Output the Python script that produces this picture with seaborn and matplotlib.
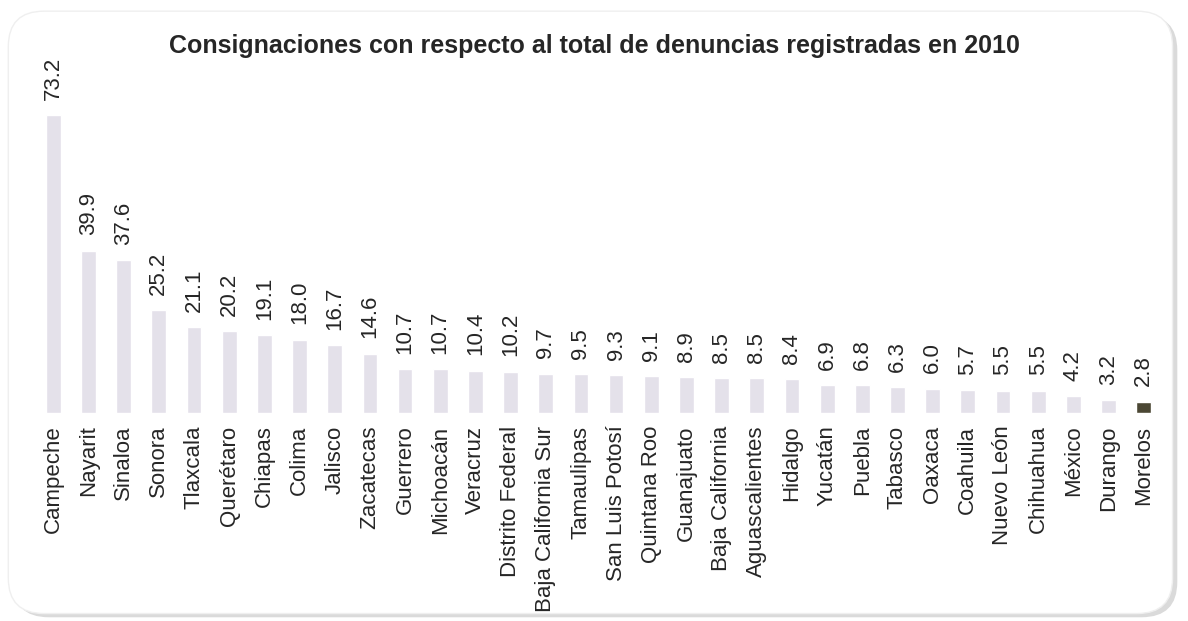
"""Consignaciones con respecto al total de denuncias registradas en 2010"""
import pandas as pd
import matplotlib
matplotlib.use("Agg")
import matplotlib.pyplot as plt
from matplotlib.patches import FancyBboxPatch
import seaborn as sns

estados = ['Campeche', 'Nayarit', 'Sinaloa', 'Sonora', 'Tlaxcala', 'Querétaro',
           'Chiapas', 'Colima', 'Jalisco', 'Zacatecas', 'Guerrero', 'Michoacán',
           'Veracruz', 'Distrito Federal', 'Baja California Sur', 'Tamaulipas',
           'San Luis Potosí', 'Quintana Roo', 'Guanajuato', 'Baja California',
           'Aguascalientes', 'Hidalgo', 'Yucatán', 'Puebla', 'Tabasco', 'Oaxaca',
           'Coahuila', 'Nuevo León', 'Chihuahua', 'México', 'Durango', 'Morelos']
valores = [73.2, 39.9, 37.6, 25.2, 21.1, 20.2, 19.1, 18.0, 16.7, 14.6, 10.7, 10.7,
           10.4, 10.2, 9.7, 9.5, 9.3, 9.1, 8.9, 8.5, 8.5, 8.4, 6.9, 6.8, 6.3, 6.0,
           5.7, 5.5, 5.5, 4.2, 3.2, 2.8]
destacado = 'Morelos'

df = pd.DataFrame({'estado': estados, 'valor': valores})
colores = {e: ('#4F4A30' if e == destacado else '#E4DFEC') for e in estados}

sns.set_style('white')
plt.rcParams['font.family'] = ['Liberation Sans', 'DejaVu Sans']

fig = plt.figure(figsize=(11.88, 6.21), dpi=100)

# marco redondeado con sombra
fig.patches.append(FancyBboxPatch((0.011, 0.006), 0.98, 0.97,
                                  boxstyle='round,pad=0,rounding_size=0.03',
                                  transform=fig.transFigure, facecolor='#DADADA',
                                  edgecolor='none', zorder=0, mutation_aspect=1.9))
fig.patches.append(FancyBboxPatch((0.007, 0.012), 0.98, 0.97,
                                  boxstyle='round,pad=0,rounding_size=0.03',
                                  transform=fig.transFigure, facecolor='white',
                                  edgecolor='#EFEFEF', linewidth=1, zorder=1,
                                  mutation_aspect=1.9))

ax = fig.add_axes([0.0301, 0.3349, 0.9474, 0.5244])
ax.set_zorder(2)
sns.barplot(data=df, x='estado', y='valor', hue='estado', palette=colores,
            legend=False, width=0.42, ax=ax)
ax.set_ylim(0, 80)
ax.set_xlim(-0.5, len(estados) - 0.5)
ax.patch.set_alpha(0)

for i, v in enumerate(valores):
    ax.annotate(f'{v:.1f}', (i, v), xytext=(0, 11), textcoords='offset points',
                rotation=90, ha='center', va='bottom', fontsize=16)

ax.set_xlabel('')
ax.set_ylabel('')
ax.set_yticks([])
ax.tick_params(axis='x', length=0, pad=9, labelsize=16)
ax.set_xticks(range(len(estados)))
ax.set_xticklabels(estados, rotation=90)
sns.despine(ax=ax, left=True, bottom=True)

fig.text(0.5, 0.926, 'Consignaciones con respecto al total de denuncias registradas en 2010',
         ha='center', va='center', fontsize=18, fontweight='bold')

plt.savefig('out.png', dpi=100)
plt.close()
